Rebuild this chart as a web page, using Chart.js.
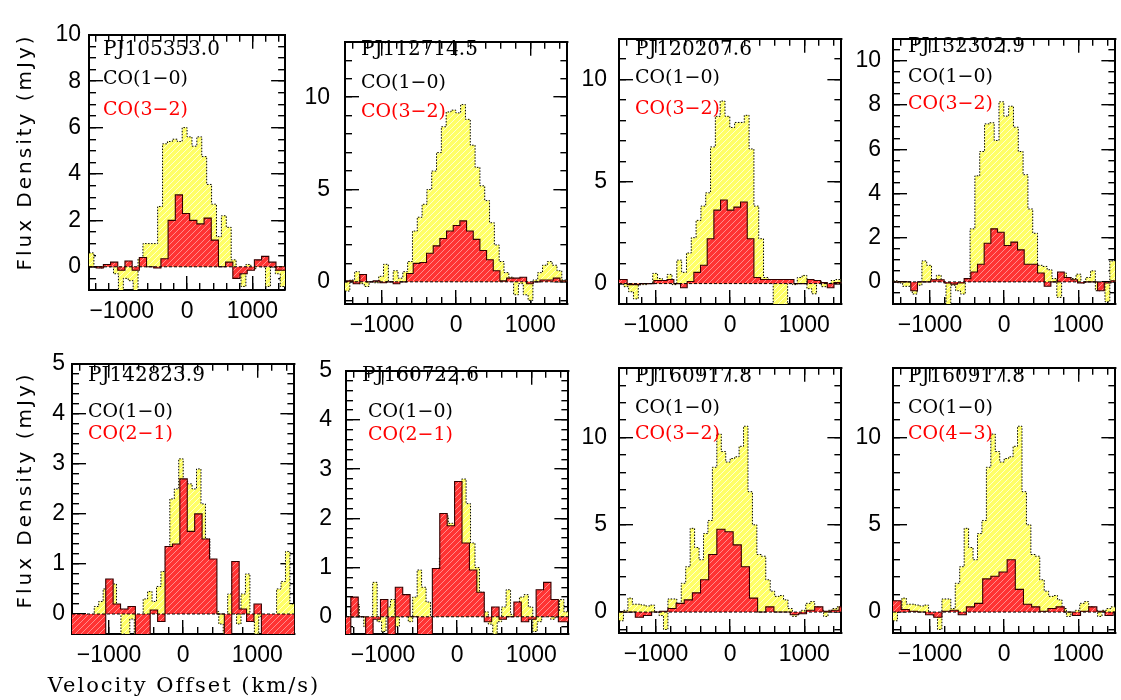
<!DOCTYPE html>
<html>
<head>
<meta charset="utf-8">
<script src="https://cdn.jsdelivr.net/npm/chart.js@4/dist/chart.umd.min.js"></script>
<style>
html,body{margin:0;padding:0;background:#fff;}
#wrap{position:relative;width:1121px;height:700px;overflow:hidden;background:#fff;}
#wrap canvas{position:absolute;}
.lbl{position:absolute;white-space:nowrap;line-height:1;color:#000;}
</style>
</head>
<body>
<div id="wrap"></div>
<script>
// ---------------- DATA ----------------
const xTickValues = [-1000, 0, 1000];
const xTickLabels = ['\u22121000', '0', '1000'];
const xRange = [-1500, 1500];

const sourceNames = ['PJ105353.0', 'PJ112714.5', 'PJ120207.6', 'PJ132302.9',
                     'PJ142823.9', 'PJ160722.6', 'PJ160917.8', 'PJ160917.8'];
const lineLow = 'CO(1\u22120)';
const lineHigh = ['CO(3\u22122)', 'CO(3\u22122)', 'CO(3\u22122)', 'CO(3\u22122)',
                  'CO(2\u22121)', 'CO(2\u22121)', 'CO(3\u22122)', 'CO(4\u22123)'];

const yTickSets = [[0,2,4,6,8,10],[0,5,10],[0,5,10],[0,2,4,6,8,10],
                   [0,1,2,3,4,5],[0,1,2,3,4,5],[0,5,10],[0,5,10]];
const yRanges = [[-1,10],[-1.2,13],[-1,12],[-1,11],[-0.4,5],[-0.35,5],[-1.2,14],[-1.2,14]];

// channel grids: [first channel start (km/s), channel width (km/s)]
const gridLow  = [[-1500,75],[-1500,65],[-1500,65],[-1500,65],[-1500,60],[-1500,60],[-1500,60],[-1500,60]];
const gridHigh = [[-1500,110],[-1570,90],[-1570,90],[-1530,90],[-1545,100],[-1535,100],[-1500,110],[-1500,110]];

// CO(1-0) flux densities (mJy) per channel
const co10_PJ105353 = [0.6,0.0,-0.05,0.05,0.0,-0.3,-1.2,-0.5,-0.6,-1.2,
  0.35,1.0,1.0,1.0,2.6,5.3,5.4,5.5,5.4,6.0,
  5.6,5.2,5.6,4.75,3.55,2.7,1.3,2.2,1.7,0.3,
  -0.2,-0.85,0.1,-0.1,0.1,0.0,-0.85,0.0,-0.3,-0.85];
const co10_PJ112714 = [-0.5,0.1,0.55,-0.1,-0.25,0.0,-0.05,0.3,0.95,0.0,
  0.6,0.2,0.55,1.1,2.75,3.5,4.2,5.0,6.0,7.0,
  8.4,9.2,9.3,9.15,9.6,8.8,7.4,6.2,5.2,4.4,
  3.2,2.0,1.1,0.5,0.25,-0.7,-0.1,-0.7,-1.0,0.1,
  0.5,0.9,1.1,0.9,0.6,0.1,0.0];
const co10_PJ120207 = [0.2,-0.15,-0.4,-0.75,-0.05,-0.05,0.0,0.5,0.25,0.1,
  0.45,-0.05,1.15,0.55,1.5,2.25,3.1,3.8,4.45,6.7,
  8.2,8.95,8.2,7.65,7.9,7.9,8.25,6.6,3.8,2.2,
  0.3,0.15,-1.2,-1.2,-1.2,0.0,-0.05,0.3,0.4,-0.25,
  -0.5,0.1,-0.15,-0.15,0.15,0.2,0.1];
const co10_PJ132302 = [0.05,-0.05,-0.2,-0.2,-0.55,-0.15,0.95,0.75,0.05,0.3,
  0.0,-1.2,-0.15,-0.4,-0.55,0.15,2.4,4.8,5.9,7.15,
  7.2,6.4,8.15,7.5,7.95,7.0,5.9,4.85,3.3,2.2,
  0.75,0.7,0.55,0.15,-0.7,0.4,0.2,0.15,0.35,-0.05,
  0.2,0.5,-0.4,-0.1,-0.9,0.95,0.95];
const co10_PJ142823 = [-0.15,-0.4,-0.5,-0.2,-0.2,0.15,0.25,0.5,0.35,0.6,
  0.1,-0.4,-0.5,-0.1,-0.4,-0.1,0.3,0.45,0.25,0.55,
  0.85,1.3,2.3,2.5,3.1,2.65,2.6,2.5,2.9,2.2,
  1.5,0.6,0.05,-0.2,-0.4,0.4,0.8,-0.2,0.4,0.8,
  -0.15,-0.4,-0.05,-0.2,-0.3,-0.2,0.5,0.65,1.25,0.2];
const co10_PJ160722 = [-0.3,0.15,0.25,0.0,-0.2,-0.35,0.7,-0.1,-0.3,0.2,
  0.35,-0.2,0.0,0.3,-0.1,0.4,0.95,0.6,0.3,0.0,
  0.5,1.2,2.05,1.9,1.9,2.7,2.8,2.3,1.5,1.0,
  0.5,0.1,-0.15,-0.35,-0.1,0.2,0.55,0.05,0.2,0.4,
  0.45,0.2,-0.3,-0.1,0.0,0.1,-0.05,0.1,0.35,0.1];
const co10_PJ160917 = [-0.5,0.1,0.8,0.45,0.45,0.4,0.35,0.4,0.0,-0.2,
  -1.0,0.75,0.75,0.2,1.65,2.6,4.8,3.7,3.0,4.5,
  5.25,8.3,10.2,9.2,8.6,8.8,8.9,9.5,10.65,6.9,
  5.0,3.3,3.2,1.85,1.2,0.9,0.95,0.7,0.2,-0.25,
  -0.1,0.1,0.5,0.6,0.3,0.1,-0.25,0.1,0.2,0.3];

// higher-J CO flux densities (mJy) per channel
const co32_PJ105353 = [0.0,-0.05,0.1,0.2,-0.15,0.25,-0.15,0.4,0.0,-0.05,
  0.35,2.0,3.1,2.3,2.0,1.85,2.1,1.15,0.0,0.2,
  -0.5,-0.3,-0.15,0.3,0.45,0.2,-0.15,-0.15];
const co32_PJ112714 = [0.0,0.05,-0.1,0.4,0.0,0.05,-0.05,0.0,-0.1,0.0,
  0.45,1.0,1.05,1.55,1.95,2.35,2.75,3.05,3.3,2.75,
  2.3,1.7,1.2,0.6,0.05,0.2,0.2,0.25,-0.1,0.0,
  0.1,0.1,0.2,0.05,0.05];
const co32_PJ120207 = [0.2,0.2,-0.05,-0.05,0.0,0.0,0.15,0.15,0.2,0.0,
  -0.2,0.1,0.55,0.9,2.2,3.6,4.1,3.6,3.75,4.0,
  2.2,0.3,0.2,0.2,0.2,0.2,0.2,0.0,0.0,0.2,
  0.15,0.05,-0.2,0.05,0.05];
const co32_PJ132302 = [0.0,0.0,0.0,-0.4,0.0,0.0,0.1,0.1,-0.05,-0.1,
  -0.05,0.15,0.45,0.8,1.75,2.4,2.25,1.65,1.8,1.45,
  0.8,0.8,0.4,-0.2,0.0,0.45,0.2,0.1,-0.05,0.0,
  0.0,-0.4,-0.05,0.05];
const co21_PJ142823 = [-0.5,-0.5,-0.5,-0.5,-0.5,0.7,0.2,0.1,0.15,-0.5,
  -0.5,0.08,-0.15,1.35,1.4,2.7,1.65,2.0,1.5,1.1,
  0.0,-0.5,1.05,0.1,-0.15,0.2,-0.5,-0.5,-0.5,-0.5,-0.5];
const co21_PJ160722 = [-0.4,0.4,0.0,-0.4,-0.05,0.35,-0.4,0.6,0.45,0.0,
  -0.4,-0.4,0.98,2.1,1.85,2.75,1.5,0.95,0.5,-0.1,
  0.2,-0.05,0.0,0.3,-0.1,-0.05,0.55,0.7,0.35,-0.1,-0.1];
const co32_PJ160917 = [0.0,0.0,-0.3,-0.2,0.0,0.05,0.2,0.5,0.7,1.1,
  1.85,3.3,4.75,4.6,3.85,2.6,0.8,0.0,0.3,0.0,
  0.0,-0.15,-0.1,0.1,0.3,0.05,0.1,0.3];
const co43_PJ160917 = [0.65,0.15,0.05,0.0,-0.15,-0.3,0.05,0.1,-0.15,0.3,
  0.5,1.9,2.05,2.3,3.0,1.3,0.45,0.3,0.05,0.2,
  0.3,0.0,-0.2,0.05,0.3,0.05,-0.2,0.0];

const lowSeries = [co10_PJ105353, co10_PJ112714, co10_PJ120207, co10_PJ132302,
                   co10_PJ142823, co10_PJ160722, co10_PJ160917, co10_PJ160917];
const highSeries = [co32_PJ105353, co32_PJ112714, co32_PJ120207, co32_PJ132302,
                    co21_PJ142823, co21_PJ160722, co32_PJ160917, co43_PJ160917];

// ---------------- LAYOUT / STYLE ----------------
const frames = [[89,15,293,290],[345,15,570,304],[619,15,844,304],[893,15,1118,304],
                [72,345,297,634],[346,345,571,634],[619,344,844,633],[893,344,1118,633]];
const yLabelGap = [8,15,12,12,7,14,12,12];
const yMinorStep = [0.5,1,1,0.5,0.2,0.2,1,1];
const textPos = [[103,47.5,103,77,108],[361,48,361,81,110],[635,47.5,635,76,107],[908,44.7,908,75,101.7],
                 [88,374,88,410,432],[362,374,368,410,433],[635,375,635,406,432],[908,375,908,406,432]];
const PADL = 70, PADT = 16, PADR = 10, PADB = 45;
const X_MINOR = 200;
const TICK_MAJOR = 14, TICK_MINOR = 7;
const tickFont = {family: "'Liberation Sans', Arial, sans-serif", size: 23};

const wrap = document.getElementById('wrap');

function steps(grid, vals) {
  const pts = vals.map((y, i) => ({x: grid[0] + i * grid[1], y: y}));
  pts.push({x: grid[0] + vals.length * grid[1], y: vals[vals.length - 1]});
  return pts;
}

function hatch(base, line) {
  const s = 6;
  const c = document.createElement('canvas');
  c.width = s; c.height = s;
  const g = c.getContext('2d');
  g.fillStyle = base; g.fillRect(0, 0, s, s);
  g.strokeStyle = line; g.lineWidth = 1;
  g.beginPath();
  g.moveTo(0, s); g.lineTo(s, 0);
  g.moveTo(-1, 1); g.lineTo(1, -1);
  g.moveTo(s - 1, s + 1); g.lineTo(s + 1, s - 1);
  g.stroke();
  return g.createPattern(c, 'repeat');
}

function minorValues(min, max, step) {
  const out = [];
  for (let n = Math.ceil(min / step - 1e-6); n <= Math.floor(max / step + 1e-6); n++) {
    out.push(Math.round(n * step * 1000) / 1000);
  }
  return out;
}

// one Chart.js axis: its border is a frame side, its grid tick marks point inward
function axis(o) {
  const vertical = (o.pos === 'left' || o.pos === 'right');
  return {
    type: 'linear', axis: vertical ? 'y' : 'x', display: true, position: o.pos,
    min: o.min, max: o.max, weight: o.weight,
    afterFit(s) { if (vertical) s.width = o.size; else s.height = o.size; },
    afterBuildTicks(s) { s.ticks = o.values.map(v => ({value: v})); },
    ticks: o.labels
      ? {display: true, callback: o.labels, font: tickFont, color: '#000',
         padding: o.pad, maxRotation: 0, autoSkip: false}
      : {display: false, autoSkip: false},
    grid: {display: true, drawOnChartArea: false, drawTicks: true, tickLength: -o.len,
           color: '#000', tickColor: '#000', lineWidth: 1.4, tickWidth: 1.4},
    border: {display: o.border, color: '#000', width: 2}
  };
}

function makeCanvas(l, t, w, h) {
  const c = document.createElement('canvas');
  c.width = w; c.height = h;
  c.style.left = l + 'px'; c.style.top = t + 'px';
  c.style.width = w + 'px'; c.style.height = h + 'px';
  wrap.appendChild(c);
  return c;
}

function addText(txt, left, cy, size, family, color) {
  const d = document.createElement('div');
  d.className = 'lbl';
  d.textContent = txt;
  d.style.left = left + 'px';
  d.style.top = (cy - 0.48 * size) + 'px';
  d.style.fontSize = size + 'px';
  d.style.fontFamily = family;
  d.style.color = color;
  wrap.appendChild(d);
}

for (let p = 0; p < 8; p++) {
  const [fl, ft, fr, fb] = frames[p];
  const W = fr - fl + PADL + PADR, H = fb - ft + PADT + PADB;
  const cv = makeCanvas(fl - PADL, ft - PADT, W, H);
  const [ymin, ymax] = yRanges[p];
  const yTicks = yTickSets[p];
  const xMinor = minorValues(xRange[0], xRange[1], X_MINOR);
  const yMinor = minorValues(ymin, ymax, yMinorStep[p]);
  const xl = xRange[0], xh = xRange[1];

  new Chart(cv, {
    type: 'line',
    data: {
      datasets: [
        {
          label: 'zero',
          data: [{x: xl, y: 0}, {x: xh, y: 0}],
          xAxisID: 'x', yAxisID: 'y',
          borderColor: '#000', borderWidth: 1, borderDash: [3, 2],
          fill: false, pointRadius: 0, order: -1
        },
        {
          label: lineHigh[p],
          data: steps(gridHigh[p], highSeries[p]),
          xAxisID: 'x', yAxisID: 'y',
          stepped: true, fill: 'origin',
          backgroundColor: hatch('#ff3333', '#ff8c8c'),
          borderColor: '#300', borderWidth: 1.1,
          pointRadius: 0, order: 0
        },
        {
          label: lineLow,
          data: steps(gridLow[p], lowSeries[p]),
          xAxisID: 'x', yAxisID: 'y',
          stepped: true, fill: 'origin',
          backgroundColor: hatch('#ffff66', '#ffffd0'),
          borderColor: '#000', borderWidth: 1, borderDash: [1.5, 1.5],
          pointRadius: 0, order: 1
        }
      ]
    },
    options: {
      responsive: false, animation: false, devicePixelRatio: 1,
      layout: {padding: {left: 0, top: PADT, right: PADR, bottom: 0}},
      plugins: {legend: {display: false}, tooltip: {enabled: false}},
      scales: {
        x:   axis({pos: 'bottom', min: xl, max: xh, weight: 1, size: PADB, values: xTickValues,
                   len: TICK_MAJOR, border: true, pad: 8 + TICK_MAJOR,
                   labels: v => xTickLabels[xTickValues.indexOf(v)]}),
        xm:  axis({pos: 'bottom', min: xl, max: xh, weight: 0, size: 0, values: xMinor,
                   len: TICK_MINOR, border: false}),
        xt:  axis({pos: 'top', min: xl, max: xh, weight: 1, size: 0, values: xTickValues,
                   len: TICK_MAJOR, border: true}),
        xtm: axis({pos: 'top', min: xl, max: xh, weight: 0, size: 0, values: xMinor,
                   len: TICK_MINOR, border: false}),
        y:   axis({pos: 'left', min: ymin, max: ymax, weight: 1, size: PADL, values: yTicks,
                   len: TICK_MAJOR, border: true, pad: yLabelGap[p] + TICK_MAJOR,
                   labels: v => String(v)}),
        ym:  axis({pos: 'left', min: ymin, max: ymax, weight: 0, size: 0, values: yMinor,
                   len: TICK_MINOR, border: false}),
        yr:  axis({pos: 'right', min: ymin, max: ymax, weight: 1, size: 0, values: yTicks,
                   len: TICK_MAJOR, border: true}),
        yrm: axis({pos: 'right', min: ymin, max: ymax, weight: 0, size: 0, values: yMinor,
                   len: TICK_MINOR, border: false})
      }
    }
  });

  const tp = textPos[p];
  addText(sourceNames[p], tp[0], tp[1], 20, "'DejaVu Serif', serif", '#000');
  addText(lineLow, tp[2], tp[3], 19, "'DejaVu Serif', serif", '#000');
  addText(lineHigh[p], tp[2], tp[4], 19, "'DejaVu Serif', serif", '#ff0000');
}

// axis titles
function addYTitle(cx, cy) {
  const d = document.createElement('div');
  d.className = 'lbl';
  d.textContent = 'Flux Density (mJy)';
  d.style.fontFamily = "'DejaVu Sans', sans-serif";
  d.style.fontSize = '20px';
  d.style.letterSpacing = '3px';
  d.style.left = cx + 'px';
  d.style.top = cy + 'px';
  d.style.transform = 'translate(-50%,-50%) rotate(-90deg)';
  wrap.appendChild(d);
}
addYTitle(24, 152);
addYTitle(24, 490);
const xt = document.createElement('div');
xt.className = 'lbl';
xt.textContent = 'Velocity Offset (km/s)';
xt.style.fontFamily = "'DejaVu Serif', serif";
xt.style.fontSize = '21px';
xt.style.letterSpacing = '2px';
xt.style.left = '184px';
xt.style.top = '685px';
xt.style.transform = 'translate(-50%,-50%)';
wrap.appendChild(xt);
</script>
</body>
</html>
